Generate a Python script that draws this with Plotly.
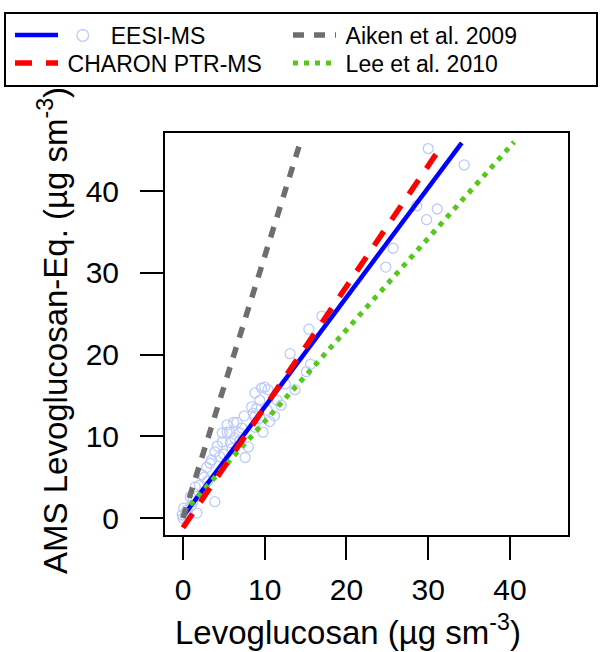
import plotly.graph_objects as go

# ---- data ----
eesi_x = [34.4, 30.0, 31.1, 29.8, 28.6, 25.7, 24.8,
          17.0, 15.4, 13.1, 15.6, 15.1, 13.7, 12.5, 11.5, 12.0,
          10.0, 9.6, 10.4, 8.8, 9.4, 9.0, 8.6, 10.3, 9.4, 10.6, 11.2,
          8.4, 8.8, 6.2, 6.6, 5.4, 5.4, 6.9, 4.8, 5.7, 4.8, 5.8, 3.9, 3.5,
          2.9, 2.3, 1.5, 0.9, 0.1, -0.1, 1.7, 3.9, 7.6, 8.0, 8.8, 3.3,
          4.2, 4.5, 6.3, 7.2, 7.5, 2.6, 3.0, 2.0, 1.2, 0.5, 0.3, 1.0,
          6.0, 5.0, 7.0, 9.8, 0.0, 0.6]
eesi_y = [43.2, 45.2, 37.8, 36.5, 38.2, 33.0, 30.7,
          24.7, 23.1, 20.1, 18.8, 17.9, 15.7, 16.4, 14.4, 13.8,
          16.0, 15.9, 15.7, 15.3, 14.4, 13.4, 12.8, 13.2, 12.2, 11.8, 12.5,
          13.6, 12.4, 11.7, 11.7, 11.4, 10.5, 10.4, 10.4, 10.5, 9.3, 9.2, 8.1, 7.1,
          6.2, 5.3, 3.8, 2.6, 1.2, 0.4, 0.6, 2.0, 7.4, 8.7, 11.1, 6.7,
          8.8, 7.5, 9.8, 11.0, 12.5, 5.0, 4.5, 4.0, 2.0, 1.0, 0.2, 1.5,
          8.5, 7.8, 9.5, 10.5, 0.0, 0.3]

eesi_fit_x = [0.0, 34.1]
eesi_fit_y = [0.2, 45.9]
charon_x = [0.0, 31.7]
charon_y = [-1.2, 45.6]
aiken_x = [0.0, 14.3]
aiken_y = [0.0, 45.8]
lee_x = [0.0, 40.5]
lee_y = [0.6, 46.0]

x_ticks = [0, 10, 20, 30, 40]
y_ticks = [0, 10, 20, 30, 40]

x_title = "Levoglucosan (µg sm<sup>-3</sup>)"
y_title = "AMS Levoglucosan-Eq. (µg sm<sup>-3</sup>)"

FONT = "Liberation Sans, Arial, sans-serif"
NB = "\u00a0"
TH = "\u2009"

fig = go.Figure()

fig.add_trace(go.Scatter(
    x=eesi_x, y=eesi_y, mode="markers", showlegend=False,
    marker=dict(symbol="circle-open", size=10, color="#bccbf8",
                line=dict(width=1.3, color="#bccbf8")),
    hoverinfo="skip"))

fig.add_trace(go.Scatter(
    x=eesi_fit_x, y=eesi_fit_y, mode="lines", legend="legend",
    name=TH + NB + "<span style='color:#bccbf8;font-size:29px'>○</span>" + NB * 3 + "EESI-MS",
    line=dict(color="#0000ff", width=4.5)))

fig.add_trace(go.Scatter(
    x=lee_x, y=lee_y, mode="lines", legend="legend4",
    name=TH + "Lee et al. 2010",
    line=dict(color="#55c81a", width=5, dash="5px,6px")))

fig.add_trace(go.Scatter(
    x=charon_x, y=charon_y, mode="lines", legend="legend2",
    name=TH + "CHARON PTR-MS",
    line=dict(color="#ff0000", width=5.5, dash="17px,14px")))

fig.add_trace(go.Scatter(
    x=aiken_x, y=aiken_y, mode="lines", legend="legend3",
    name=TH + "Aiken et al. 2009",
    line=dict(color="#6e6e6e", width=5.5, dash="11px,10px")))

L, R, T, B = 165, 32, 133, 117
PW, PH = 600 - L - R, 652 - T - B


def px_x(p):
    return (p - L) / PW


def px_y(p):
    return (652 - B - p) / PH


axis_common = dict(
    showline=True, linecolor="black", linewidth=2, mirror=True,
    ticks="outside", ticklen=23, tickwidth=2, tickcolor="black",
    showgrid=False, zeroline=False,
    tickfont=dict(family=FONT, size=30, color="black"),
)


def leg(xpx, ypx):
    return dict(
        orientation="v", xref="container", yref="container",
        x=xpx / 600, y=1 - ypx / 652, xanchor="left", yanchor="middle",
        font=dict(family=FONT, size=23, color="black"),
        itemwidth=43, bgcolor="rgba(0,0,0,0)", borderwidth=0,
    )


fig.update_layout(
    width=600, height=652,
    margin=dict(l=L, r=R, t=T, b=B, autoexpand=False),
    paper_bgcolor="white", plot_bgcolor="white",
    font=dict(family=FONT, color="black"),
    xaxis=dict(range=[-2.2, 47.1], tickvals=x_ticks, ticklabelstandoff=4,
               **axis_common),
    yaxis=dict(range=[-2.08, 47.1], tickvals=y_ticks, ticklabelstandoff=15,
               **axis_common),
    legend=leg(10, 35),
    legend2=leg(10, 63),
    legend3=leg(288, 35),
    legend4=leg(288, 63),
    annotations=[
        dict(text=x_title, xref="paper", yref="paper",
             x=px_x(348), y=px_y(630),
             xanchor="center", yanchor="middle", showarrow=False,
             font=dict(family=FONT, size=33, color="black")),
        dict(text=y_title, xref="paper", yref="paper", textangle=-90,
             x=px_x(53), y=px_y(331),
             xanchor="center", yanchor="middle", showarrow=False,
             font=dict(family=FONT, size=33, color="black")),
    ],
    shapes=[dict(type="rect", xref="paper", yref="paper",
                 x0=px_x(5), x1=px_x(597), y0=px_y(86), y1=px_y(13),
                 line=dict(color="black", width=2), fillcolor="rgba(0,0,0,0)",
                 layer="above")],
)

fig.write_html("out.html")
